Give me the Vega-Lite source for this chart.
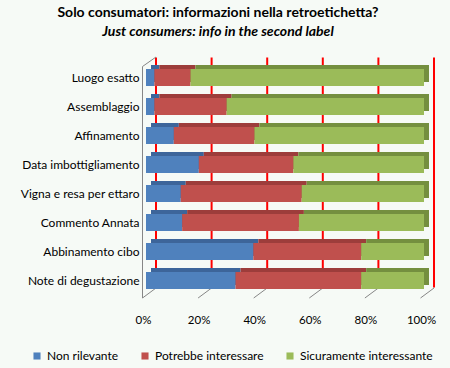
{
  "$schema": "https://vega.github.io/schema/vega-lite/v6.json",
  "width": 278,
  "height": 232,
  "autosize": {"type": "none"},
  "padding": {"left": 146, "top": 63, "right": 26, "bottom": 73},
  "background": "#F6FAF6",
  "config": {"font": "Lato", "view": {"stroke": null}},
  "title": {
    "text": "Solo consumatori: informazioni nella retroetichetta?",
    "subtitle": "Just consumers: info in the second label",
    "fontSize": 14,
    "fontWeight": "bold",
    "color": "#000000",
    "subtitleFontSize": 14,
    "subtitleFontStyle": "italic",
    "subtitleFontWeight": "bold",
    "subtitleColor": "#000000",
    "subtitlePadding": 5,
    "anchor": "middle",
    "dx": -67,
    "offset": 18
  },
  "datasets": {
    "answers": [
      {"cat": "Luogo esatto", "series": "Non rilevante", "value": 3},
      {"cat": "Luogo esatto", "series": "Potrebbe interessare", "value": 13},
      {"cat": "Luogo esatto", "series": "Sicuramente interessante", "value": 84},
      {"cat": "Assemblaggio", "series": "Non rilevante", "value": 3},
      {"cat": "Assemblaggio", "series": "Potrebbe interessare", "value": 26},
      {"cat": "Assemblaggio", "series": "Sicuramente interessante", "value": 71},
      {"cat": "Affinamento", "series": "Non rilevante", "value": 10},
      {"cat": "Affinamento", "series": "Potrebbe interessare", "value": 29},
      {"cat": "Affinamento", "series": "Sicuramente interessante", "value": 61},
      {"cat": "Data imbottigliamento", "series": "Non rilevante", "value": 19},
      {"cat": "Data imbottigliamento", "series": "Potrebbe interessare", "value": 34},
      {"cat": "Data imbottigliamento", "series": "Sicuramente interessante", "value": 47},
      {"cat": "Vigna e resa per ettaro", "series": "Non rilevante", "value": 12.5},
      {"cat": "Vigna e resa per ettaro", "series": "Potrebbe interessare", "value": 43.5},
      {"cat": "Vigna e resa per ettaro", "series": "Sicuramente interessante", "value": 44},
      {"cat": "Commento Annata", "series": "Non rilevante", "value": 13},
      {"cat": "Commento Annata", "series": "Potrebbe interessare", "value": 42},
      {"cat": "Commento Annata", "series": "Sicuramente interessante", "value": 45},
      {"cat": "Abbinamento cibo", "series": "Non rilevante", "value": 38.6},
      {"cat": "Abbinamento cibo", "series": "Potrebbe interessare", "value": 38.8},
      {"cat": "Abbinamento cibo", "series": "Sicuramente interessante", "value": 22.6},
      {"cat": "Note di degustazione", "series": "Non rilevante", "value": 32.2},
      {"cat": "Note di degustazione", "series": "Potrebbe interessare", "value": 45.2},
      {"cat": "Note di degustazione", "series": "Sicuramente interessante", "value": 22.6}
    ]
  },
  "resolve": {"scale": {"color": "independent"}},
  "layer": [
    {
      "data": {"values": [{"g": 0}, {"g": 20}, {"g": 40}, {"g": 60}, {"g": 80}, {"g": 100}]},
      "mark": {"type": "rule", "color": "red", "strokeWidth": 2, "xOffset": 10, "x2Offset": 10, "yOffset": -20, "y2Offset": 7},
      "encoding": {
        "x": {"field": "g", "type": "quantitative"},
        "x2": {"field": "g"},
        "y": {"datum": "Luogo esatto", "type": "nominal"},
        "y2": {"datum": "Note di degustazione"}
      }
    },
    {
      "data": {"values": [{"v": 0}, {"v": 20}, {"v": 40}, {"v": 60}, {"v": 80}, {"v": 100}]},
      "mark": {"type": "rule", "color": "#868686", "strokeWidth": 1, "xOffset": 10, "x2Offset": -3.5, "yOffset": 7.5, "y2Offset": 17.5},
      "encoding": {
        "x": {"field": "v", "type": "quantitative"},
        "x2": {"field": "v"},
        "y": {"datum": "Note di degustazione", "type": "nominal"},
        "y2": {"datum": "Note di degustazione"}
      }
    },
    {
      "data": {"values": [{"v": 0}]},
      "mark": {"type": "rule", "color": "#868686", "strokeWidth": 1, "xOffset": -3.5, "x2Offset": -3.5, "yOffset": -11, "y2Offset": 17.5},
      "encoding": {
        "x": {"field": "v", "type": "quantitative"},
        "x2": {"field": "v"},
        "y": {"datum": "Luogo esatto", "type": "nominal"},
        "y2": {"datum": "Note di degustazione"}
      }
    },
    {
      "data": {"values": [{"v": 0}]},
      "mark": {"type": "rule", "color": "#868686", "strokeWidth": 1, "xOffset": -3.5, "x2Offset": 10, "yOffset": -11, "y2Offset": -20.5},
      "encoding": {
        "x": {"field": "v", "type": "quantitative"},
        "x2": {"field": "v"},
        "y": {"datum": "Luogo esatto", "type": "nominal"},
        "y2": {"datum": "Luogo esatto"}
      }
    },
    {
      "data": {"name": "answers"},
      "mark": {"type": "bar", "size": 17, "xOffset": 5, "x2Offset": 5, "yOffset": -4, "y2Offset": -4},
      "encoding": {
        "x": {"field": "value", "type": "quantitative", "stack": "zero"},
        "y": {"field": "cat", "type": "nominal"},
        "color": {
          "field": "series",
          "type": "nominal",
          "scale": {"domain": ["Non rilevante", "Potrebbe interessare", "Sicuramente interessante"], "range": ["#3D659A", "#9D3D3B", "#748F3F"]},
          "legend": null
        }
      }
    },
    {
      "data": {"name": "answers"},
      "mark": {"type": "bar", "size": 17},
      "encoding": {
        "x": {
          "field": "value",
          "type": "quantitative",
          "stack": "zero",
          "scale": {"domain": [0, 100], "nice": false},
          "axis": {
            "title": null,
            "grid": false,
            "domain": false,
            "ticks": false,
            "values": [0, 20, 40, 60, 80, 100],
            "labelExpr": "datum.value + '%'",
            "labelFlush": false,
            "labelOffset": -3,
            "labelPadding": 19,
            "labelFontSize": 11.5,
            "labelColor": "#000000",
            "labelFont": "Lato"
          }
        },
        "y": {
          "field": "cat",
          "type": "nominal",
          "scale": {
            "domain": ["Luogo esatto", "Assemblaggio", "Affinamento", "Data imbottigliamento", "Vigna e resa per ettaro", "Commento Annata", "Abbinamento cibo", "Note di degustazione"],
            "paddingInner": 0,
            "paddingOuter": 0
          },
          "axis": {
            "title": null,
            "domain": false,
            "ticks": false,
            "labelPadding": 7,
            "labelFontSize": 12,
            "labelColor": "#000000",
            "labelFont": "Lato"
          }
        },
        "color": {
          "field": "series",
          "type": "nominal",
          "scale": {"domain": ["Non rilevante", "Potrebbe interessare", "Sicuramente interessante"], "range": ["#4F81BD", "#C0504D", "#9BBB59"]},
          "legend": {
            "title": null,
            "orient": "none",
            "direction": "horizontal",
            "legendX": -115,
            "legendY": 287,
            "symbolType": "square",
            "symbolSize": 50,
            "symbolStrokeWidth": 0,
            "labelFontSize": 12,
            "labelColor": "#000000",
            "labelFont": "Lato",
            "columnPadding": 20,
            "labelOffset": 4
          }
        }
      }
    }
  ]
}
